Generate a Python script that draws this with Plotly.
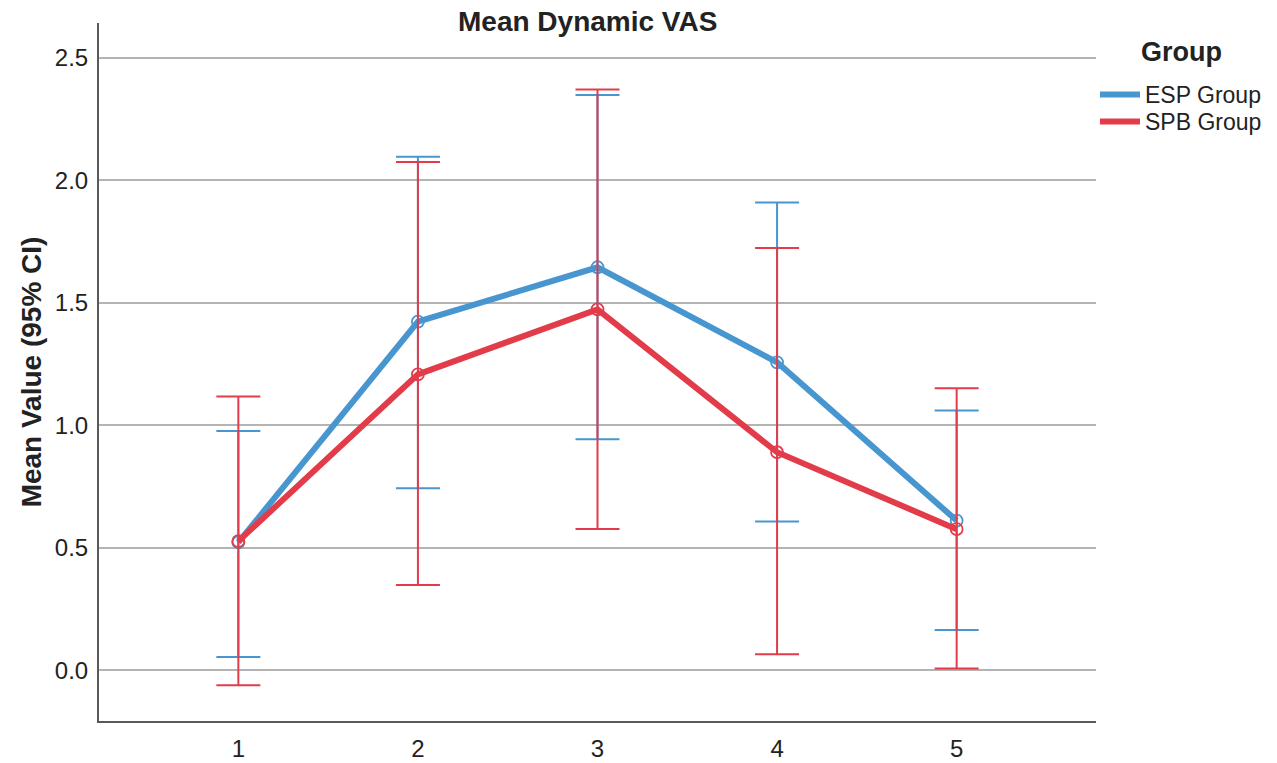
import plotly.graph_objects as go

time_points = [1, 2, 3, 4, 5]

esp_mean = [0.522, 1.423, 1.645, 1.257, 0.611]
esp_upper = [0.977, 2.096, 2.348, 1.909, 1.060]
esp_lower = [0.054, 0.743, 0.943, 0.607, 0.164]

spb_mean = [0.527, 1.208, 1.473, 0.890, 0.576]
spb_upper = [1.117, 2.075, 2.371, 1.724, 1.151]
spb_lower = [-0.061, 0.348, 0.577, 0.065, 0.007]

y_ticks = [0.0, 0.5, 1.0, 1.5, 2.0, 2.5]

BLUE = "#4896d0"
RED = "#e23c4a"
FONT = "Liberation Sans, Arial, sans-serif"
TXT = "#222222"

W, H = 1261, 755  # page keeps an 8px body margin around the figure
OFF = 8
ML, MR, MT, MB = 91, 173, 15, 42

fig = go.Figure()

def add_series(name, mean, upper, lower, color):
    plus = [u - m for u, m in zip(upper, mean)]
    minus = [m - l for m, l in zip(mean, lower)]
    fig.add_trace(go.Scatter(
        x=time_points, y=mean, mode="lines+markers", name=name,
        showlegend=False,
        line=dict(color=color, width=6),
        marker=dict(symbol="circle-open", size=12, color=color, line=dict(width=1.8)),
        error_y=dict(type="data", symmetric=False, array=plus, arrayminus=minus,
                     color=color, thickness=2, width=22),
    ))

add_series("ESP Group", esp_mean, esp_upper, esp_lower, BLUE)
add_series("SPB Group", spb_mean, spb_upper, spb_lower, RED)

for name, color, lg in [("ESP Group", BLUE, "legend"), ("SPB Group", RED, "legend2")]:
    fig.add_trace(go.Scatter(x=[None], y=[None], mode="lines", name=name, legend=lg,
                             line=dict(color=color, width=6), showlegend=True))

fig.add_annotation(text="<b>Group</b>", xref="paper", yref="paper",
                   x=(1181 - OFF - ML) / (W - ML - MR), y=1 + (MT - (52 - OFF)) / (H - MT - MB),
                   xanchor="center", yanchor="middle", showarrow=False,
                   font=dict(size=27, color=TXT, family=FONT))

fig.add_annotation(text="<b>Mean Dynamic VAS</b>", xref="paper", yref="paper",
                   x=(587 - OFF - ML) / (W - ML - MR), y=1 + (MT - (21 - OFF)) / (H - MT - MB),
                   xanchor="center", yanchor="middle", showarrow=False,
                   font=dict(size=28, color=TXT, family=FONT))

legend_common = dict(xref="container", yref="container", xanchor="left", yanchor="top",
                     font=dict(size=23, color=TXT, family=FONT),
                     bgcolor="rgba(0,0,0,0)", itemwidth=40)

fig.update_layout(
    width=W, height=H,
    margin=dict(l=ML, r=MR, t=MT, b=MB, autoexpand=False),
    paper_bgcolor="white", plot_bgcolor="white",
    font=dict(family=FONT, color=TXT, size=24),
    legend=dict(x=(1095 - OFF) / W, y=1 - (73 - OFF) / H, **legend_common),
    legend2=dict(x=(1095 - OFF) / W, y=1 - (100 - OFF) / H, **legend_common),
    xaxis=dict(
        range=[0.224, 5.776], tickvals=time_points, ticktext=[str(t) for t in time_points],
        showgrid=False, zeroline=False, showline=True, linecolor="#595959", linewidth=2,
        ticks="", tickfont=dict(size=24, color=TXT), ticklabelstandoff=5, automargin=False,
    ),
    yaxis=dict(
        range=[-0.207, 2.642], tickvals=y_ticks, ticktext=[f"{v:.1f}" for v in y_ticks],
        showgrid=True, gridcolor="#b4b4b4", gridwidth=2, zeroline=False,
        showline=True, linecolor="#595959", linewidth=2, ticks="", automargin=False,
        tickfont=dict(size=24, color=TXT), ticklabelstandoff=4,
        title=dict(text="<b>Mean Value (95% CI)</b>", font=dict(size=28, color=TXT), standoff=5),
    ),
)

fig.write_html("out.html")
